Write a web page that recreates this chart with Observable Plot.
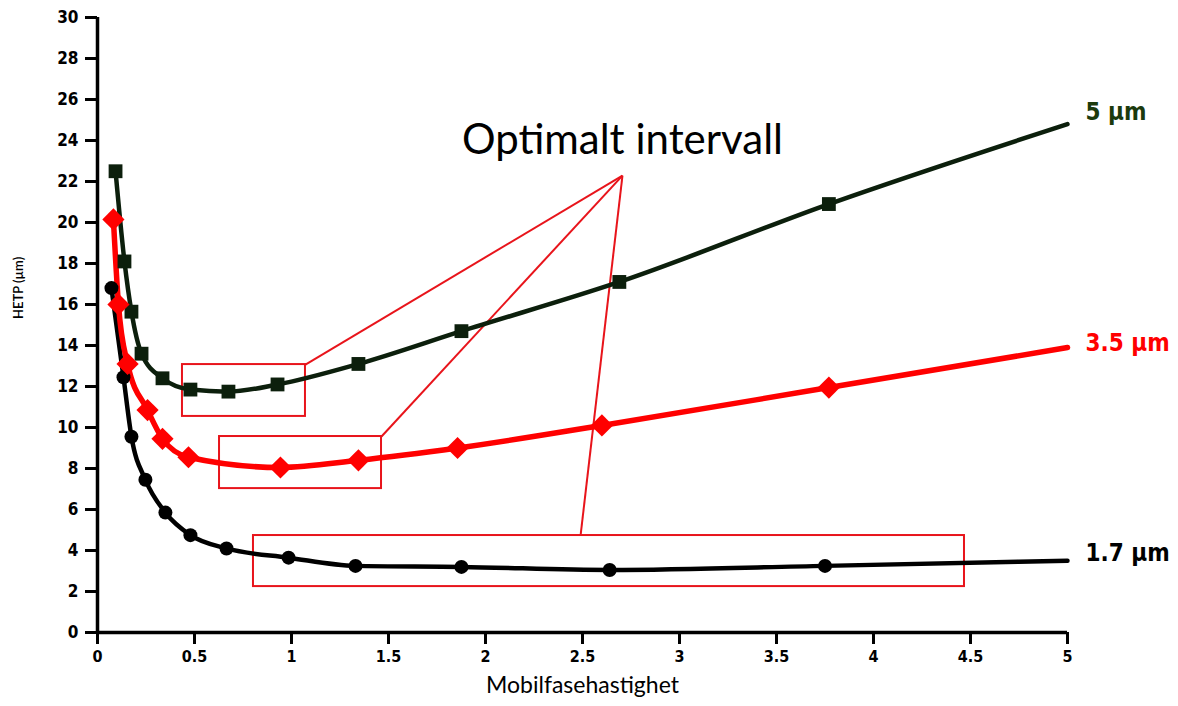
<!DOCTYPE html>
<html>
<head>
<meta charset="utf-8">
<script src="https://cdn.jsdelivr.net/npm/d3@7"></script>
<script src="https://cdn.jsdelivr.net/npm/@observablehq/plot@0.6"></script>
<style>
  html, body { margin: 0; padding: 0; background: #fff; }
  #chart svg { display: block; }
  #chart svg g[aria-label="y-axis tick label"] text,
  #chart svg g[aria-label="x-axis tick label"] text,
  #chart svg .series-label text { font-stretch: condensed; }
</style>
</head>
<body>
<div id="chart"></div>
<script>
// ---- Data ----
const seriesNames = ["5 µm", "3.5 µm", "1.7 µm"];

const speed5  = [0.093, 0.139, 0.175, 0.227, 0.335, 0.479, 0.675, 0.928, 1.345, 1.876, 2.69, 3.77];
const hetp5   = [22.5, 18.1, 15.65, 13.6, 12.4, 11.85, 11.75, 12.1, 13.1, 14.7, 17.1, 20.9];
const end5    = [5, 24.8];

const speed35 = [0.082, 0.108, 0.155, 0.258, 0.335, 0.469, 0.943, 1.345, 1.856, 2.60, 3.77];
const hetp35  = [20.15, 16.0, 13.1, 10.85, 9.45, 8.55, 8.05, 8.4, 9.0, 10.1, 11.95];
const end35   = [5, 13.9];

const speed17 = [0.072, 0.134, 0.175, 0.247, 0.35, 0.479, 0.665, 0.985, 1.33, 1.876, 2.64, 3.75];
const hetp17  = [16.8, 12.45, 9.55, 7.45, 5.85, 4.75, 4.1, 3.65, 3.25, 3.2, 3.05, 3.25];
const end17   = [5, 3.5];

// optimal interval boxes [x1, x2, y1, y2]
const boxX1 = [0.438, 0.629, 0.804];
const boxX2 = [1.072, 1.464, 4.469];
const boxY1 = [10.54, 7.02, 2.24];
const boxY2 = [13.07, 9.56, 4.73];

// pointer lines from annotation apex to boxes
const apex = [2.706, 22.29];
const pointerX = [1.072, 1.464, 2.49];
const pointerY = [13.07, 9.56, 4.73];
const annotationText = "Optimalt intervall";
const annotationPos = [2.706, 24.0];

const xTicks = [0, 0.5, 1, 1.5, 2, 2.5, 3, 3.5, 4, 4.5, 5];
const yTicks = [0, 2, 4, 6, 8, 10, 12, 14, 16, 18, 20, 22, 24, 26, 28, 30];
const xLabel = "Mobilfasehastighet";
const yLabel = "HETP (µm)";

// ---- Build tables ----
const pts = (xs, ys) => xs.map((x, i) => ({x, y: ys[i]}));
const p5 = pts(speed5, hetp5), p35 = pts(speed35, hetp35), p17 = pts(speed17, hetp17);
const l5 = [...p5, {x: end5[0], y: end5[1]}];
const l35 = [...p35, {x: end35[0], y: end35[1]}];
const l17 = [...p17, {x: end17[0], y: end17[1]}];
const boxes = boxX1.map((x1, i) => ({x1, x2: boxX2[i], y1: boxY1[i], y2: boxY2[i]}));
const pointers = pointerX.map((x, i) => ({x1: apex[0], y1: apex[1], x2: x, y2: pointerY[i]}));

const green = "#0c1f0c";
const labelGreen = "#1b3a0d";
const red = "#ff0000";
const boxRed = "#e8141b";
const tickFont = "'Liberation Sans Narrow', 'DejaVu Sans', sans-serif";
const textFont = "Lato, 'Open Sans', sans-serif";

const chart = Plot.plot({
  width: 1178,
  height: 706,
  marginLeft: 97,
  marginRight: 111,
  marginTop: 17,
  marginBottom: 74,
  x: {domain: [0, 5]},
  y: {domain: [0, 30]},
  style: {fontFamily: tickFont, background: "#fff", color: "#000"},
  marks: [
    Plot.axisY({ticks: yTicks, tickSize: 12, tickPadding: 7, strokeWidth: 3, fontWeight: "bold", fontSize: 17, label: null}),
    Plot.axisX({ticks: xTicks, tickFormat: d => String(d), tickSize: 12, tickPadding: 6, strokeWidth: 3, fontWeight: "bold", fontSize: 16, label: null}),
    Plot.ruleX([0], {strokeWidth: 3.5, stroke: "#000"}),
    Plot.ruleY([0], {strokeWidth: 3.5, stroke: "#000"}),
    Plot.rect(boxes, {x1: "x1", x2: "x2", y1: "y1", y2: "y2", fill: "none", stroke: boxRed, strokeWidth: 2}),
    Plot.link(pointers, {x1: "x1", y1: "y1", x2: "x2", y2: "y2", stroke: boxRed, strokeWidth: 2}),
    Plot.line(l17, {x: "x", y: "y", stroke: "#000", strokeWidth: 4.5, curve: "monotone-x"}),
    Plot.line(l5, {x: "x", y: "y", stroke: green, strokeWidth: 4.5, curve: "monotone-x"}),
    Plot.line(l35, {x: "x", y: "y", stroke: red, strokeWidth: 5.5, curve: "monotone-x"}),
    Plot.dot(p17, {x: "x", y: "y", r: 7, fill: "#000", symbol: "circle"}),
    Plot.dot(p5, {x: "x", y: "y", r: 7.8, fill: green, symbol: "square"}),
    Plot.dot(p35, {x: "x", y: "y", r: 10, fill: red, symbol: "diamond2"}),
    Plot.text([l5[l5.length - 1]], {x: "x", y: "y", text: () => seriesNames[0], dx: 18, dy: -12, textAnchor: "start", fill: labelGreen, fontWeight: "bold", fontSize: 24, fontFamily: tickFont, className: "series-label"}),
    Plot.text([l35[l35.length - 1]], {x: "x", y: "y", text: () => seriesNames[1], dx: 18, dy: -4, textAnchor: "start", fill: red, fontWeight: "bold", fontSize: 24, fontFamily: tickFont, className: "series-label"}),
    Plot.text([l17[l17.length - 1]], {x: "x", y: "y", text: () => seriesNames[2], dx: 18, dy: -7, textAnchor: "start", fill: "#000", fontWeight: "bold", fontSize: 24, fontFamily: tickFont, className: "series-label"}),
    Plot.text([annotationText], {x: annotationPos[0], y: annotationPos[1], text: d => d, fontSize: 42, fontFamily: textFont, fill: "#000"}),
    Plot.text([xLabel], {frameAnchor: "bottom", dy: 60, text: d => d, fontSize: 23, fontFamily: textFont, fill: "#000"}),
    Plot.text([yLabel], {frameAnchor: "left", dx: -79, dy: -6, rotate: -90, text: d => d, fontSize: 13, fontWeight: 600, fontFamily: textFont, fill: "#000"})
  ]
});
document.getElementById("chart").appendChild(chart);
</script>
</body>
</html>
